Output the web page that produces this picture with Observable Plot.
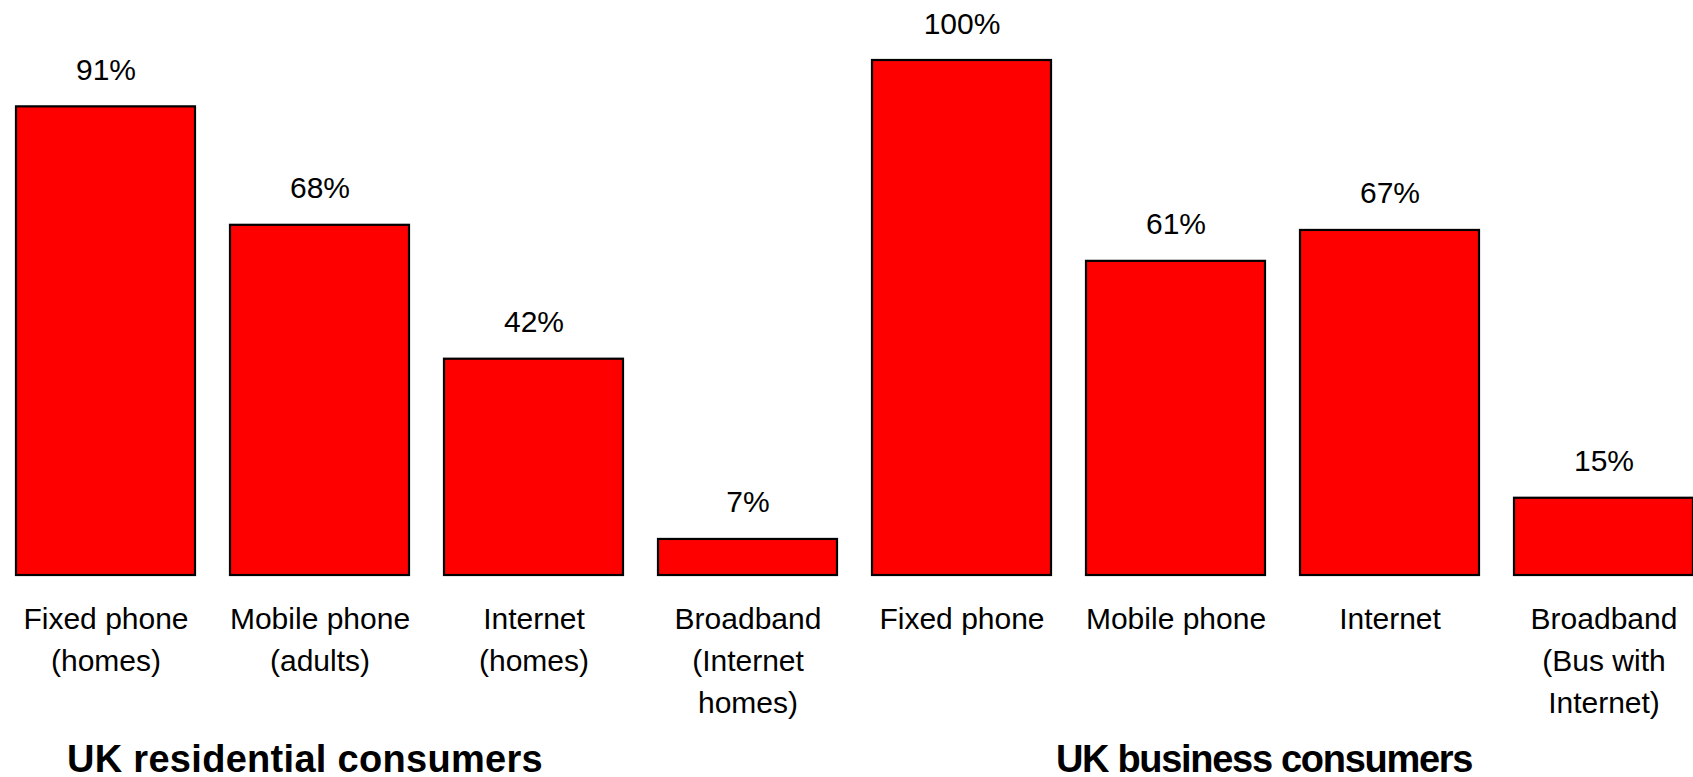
<!DOCTYPE html>
<html>
<head>
<meta charset="utf-8">
<script src="https://cdn.jsdelivr.net/npm/d3@7"></script>
<script src="https://cdn.jsdelivr.net/npm/@observablehq/plot@0.6"></script>
<style>
  html, body { margin: 0; padding: 0; background: #fff; overflow: hidden; }
  #wrap { position: relative; width: 1693px; height: 777px; font-family: "Liberation Sans", Arial, sans-serif; }
  #wrap svg { position: absolute; left: 0; top: 0; max-width: none; }
  .group-title { position: absolute; font-weight: bold; font-size: 38px; color: #000; white-space: nowrap; transform: translateX(-50%); line-height: 30px; }
</style>
</head>
<body>
<div id="wrap"></div>
<script>
const categories = [
  "Fixed phone\n(homes)",
  "Mobile phone\n(adults)",
  "Internet\n(homes)",
  "Broadband\n(Internet\nhomes)",
  "Fixed phone",
  "Mobile phone",
  "Internet",
  "Broadband\n(Bus with\nInternet)"
];
const values = [91, 68, 42, 7, 100, 61, 67, 15];
const valueLabels = ["91%", "68%", "42%", "7%", "100%", "61%", "67%", "15%"];
const groupTitles = ["UK residential consumers", "UK business consumers"];

const data = categories.map((c, i) => ({cat: c, value: values[i], label: valueLabels[i]}));

const chart = Plot.plot({
  width: 1693,
  height: 777,
  style: {fontFamily: "Liberation Sans, Arial, sans-serif", background: "transparent", overflow: "visible"},
  x: {type: "band", domain: categories, range: [13, 1696], paddingInner: 0.165, paddingOuter: 0, axis: null},
  y: {domain: [0, 100], range: [575, 60], axis: null},
  marks: [
    Plot.barY(data, {x: "cat", y: "value", fill: "#ff0000", stroke: "#000", strokeWidth: 2.2}),
    Plot.text(data, {x: "cat", y: "value", text: "label", fontSize: 30, fill: "#000", lineAnchor: "bottom", dy: -27}),
    Plot.text(data, {x: "cat", y: 0, text: "cat", fontSize: 30, fill: "#000", lineAnchor: "top", lineHeight: 1.41, dy: 23})
  ]
});
const wrap = document.getElementById("wrap");
wrap.appendChild(chart);

const titleStyle = [{left: 305, top: 744, spacing: 0.3}, {left: 1264, top: 744, spacing: -1.3}];
groupTitles.forEach((t, i) => {
  const d = document.createElement("div");
  d.className = "group-title";
  d.textContent = t;
  d.style.left = titleStyle[i].left + "px";
  d.style.top = titleStyle[i].top + "px";
  d.style.letterSpacing = titleStyle[i].spacing + "px";
  wrap.appendChild(d);
});
</script>
</body>
</html>
